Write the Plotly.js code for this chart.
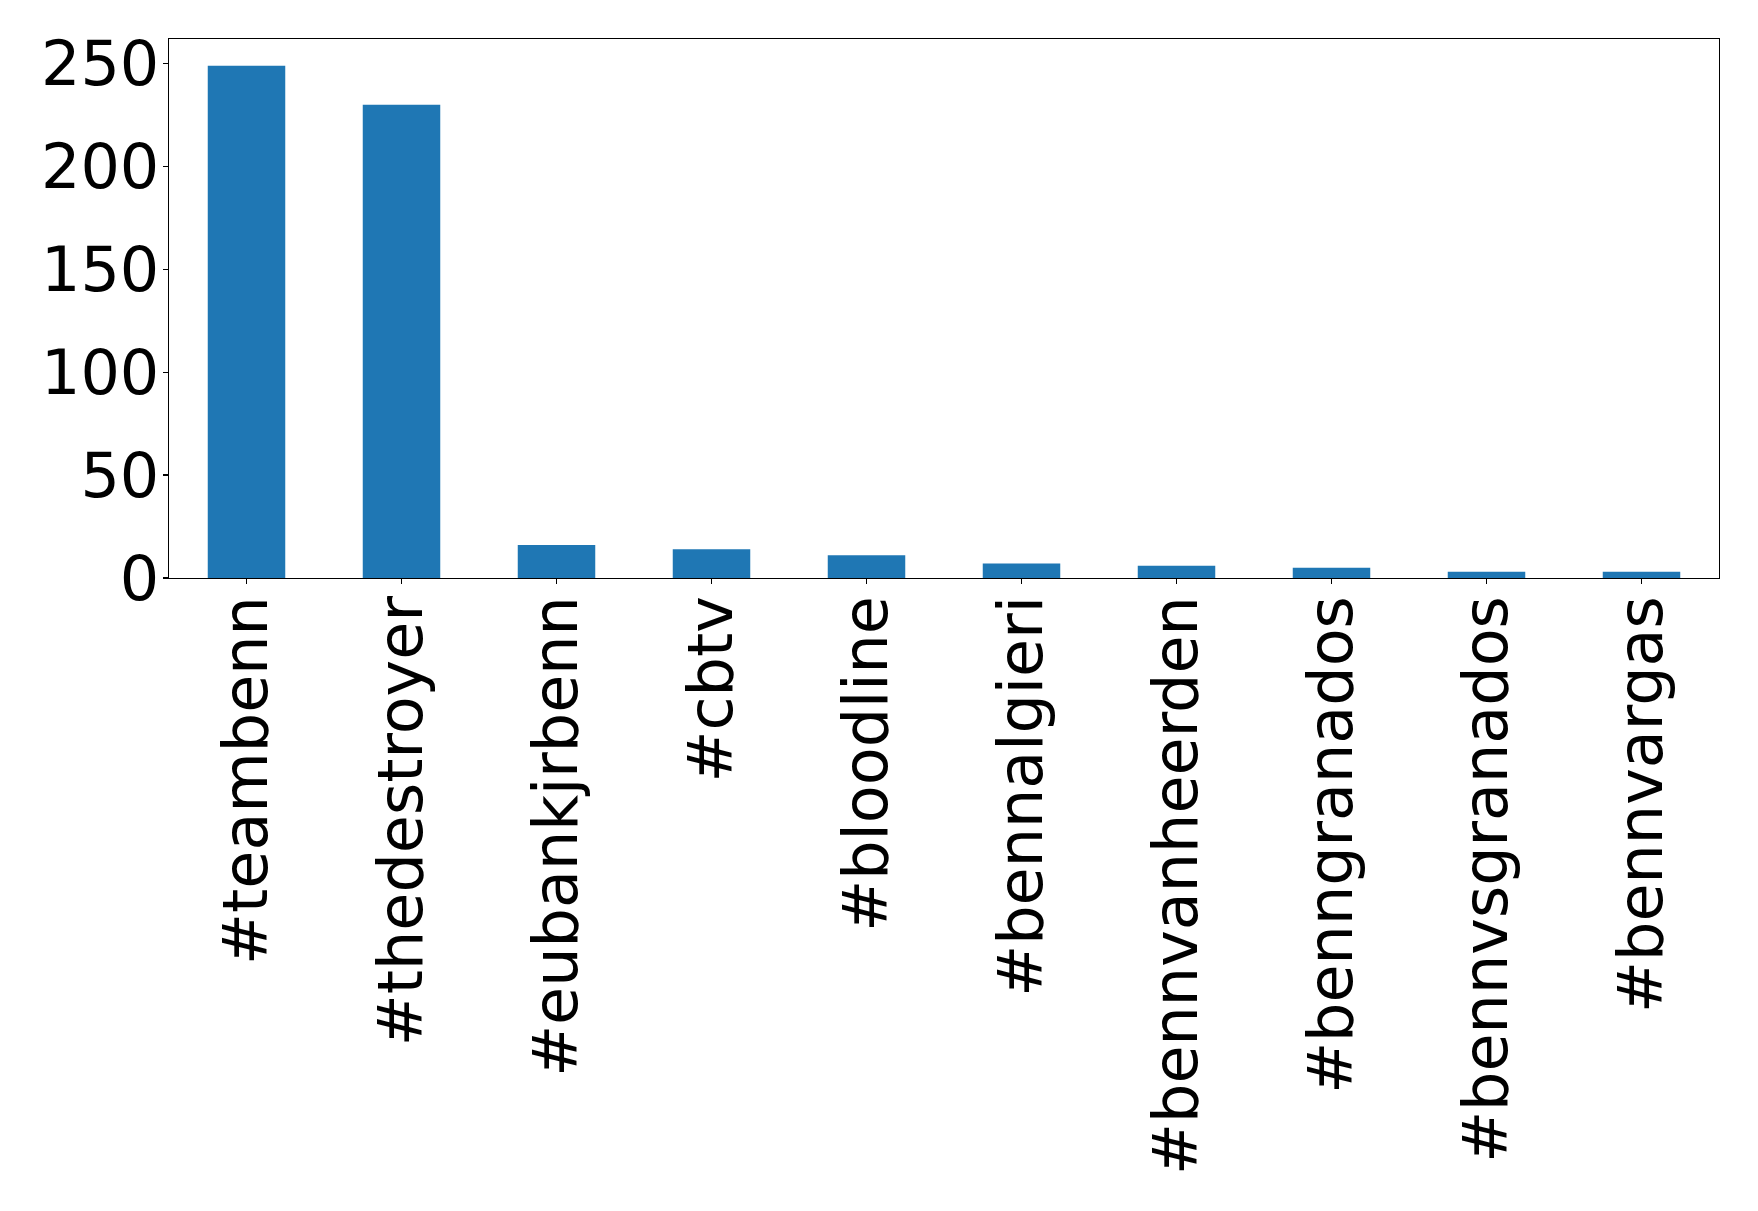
<!DOCTYPE html>
<html>
<head>
<meta charset="utf-8">
<script src="https://cdn.plot.ly/plotly-3.0.1.min.js"></script>
<style>
  html, body { margin: 0; padding: 0; background: #ffffff; }
  #chart { width: 1758px; height: 1211px; }
</style>
</head>
<body>
<div id="chart"></div>
<script>
// Hashtag frequency counts
const hashtags = [
  "#teambenn", "#thedestroyer", "#eubankjrbenn", "#cbtv", "#bloodline",
  "#bennalgieri", "#bennvanheerden", "#benngranados", "#bennvsgranados", "#bennvargas"
];
const counts = [249, 230, 16, 14, 11, 7, 6, 5, 3, 3];
const yTicks = [0, 50, 100, 150, 200, 250];

const trace = {
  type: "bar",
  x: hashtags,
  y: counts,
  width: 0.5,
  marker: { color: "#1f77b4", line: { width: 0 } },
  hoverinfo: "x+y"
};

const tickFont = { family: "DejaVu Sans, sans-serif", size: 62, color: "#000000" };

const layout = {
  width: 1758,
  height: 1211,
  margin: { l: 169, r: 39, t: 39, b: 633, pad: 0 },
  paper_bgcolor: "#ffffff",
  plot_bgcolor: "#ffffff",
  showlegend: false,
  bargap: 0.5,
  xaxis: {
    type: "category",
    range: [-0.5, 9.5],
    tickangle: -90,
    tickfont: tickFont,
    ticklabelstandoff: -13,
    ticks: "outside",
    ticklen: 5,
    tickwidth: 1.3,
    tickcolor: "#000000",
    showline: true,
    linecolor: "#000000",
    linewidth: 1.3,
    mirror: true,
    showgrid: false,
    zeroline: false,
    automargin: false
  },
  yaxis: {
    range: [0, 262],
    tickmode: "array",
    tickvals: yTicks,
    ticktext: yTicks.map(String),
    tickfont: tickFont,
    ticklabelstandoff: -9,
    ticks: "outside",
    ticklen: 5,
    tickwidth: 1.3,
    tickcolor: "#000000",
    showline: true,
    linecolor: "#000000",
    linewidth: 1.3,
    mirror: true,
    showgrid: false,
    zeroline: false,
    automargin: false
  }
};

Plotly.newPlot("chart", [trace], layout, { displayModeBar: false, staticPlot: true });
</script>
</body>
</html>
